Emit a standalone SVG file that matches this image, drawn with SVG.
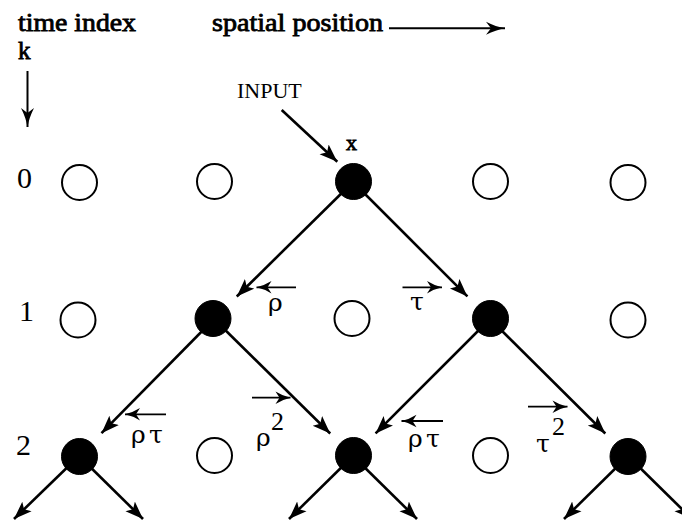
<svg xmlns="http://www.w3.org/2000/svg" width="682" height="520" viewBox="0 0 682 520">
<style>
.bg{fill:#fff}
.open{fill:#fff;stroke:#000;stroke-width:2}
.full{fill:#000;stroke:#000;stroke-width:1}
.edge{stroke:#000;stroke-width:2.6;fill:none;marker-end:url(#big)}
.ax{stroke:#000;stroke-width:2;fill:none;marker-end:url(#barbL)}
.la{stroke:#000;stroke-width:1.8;fill:none;marker-end:url(#barbS)}
.hd{font-family:"Liberation Serif","DejaVu Serif",serif;font-size:25px;fill:#000;stroke:#000;stroke-width:0.8}
.rn{font-family:"Liberation Serif","DejaVu Serif",serif;font-size:30px;fill:#000}
.gr{font-family:"DejaVu Serif","Liberation Serif",serif;font-size:25px;fill:#000}
.sup{font-family:"Liberation Serif","DejaVu Serif",serif;font-size:26px;fill:#000}
.in{font-family:"Liberation Serif","DejaVu Serif",serif;font-size:22px;fill:#000}
</style>
<defs>
<marker id="big" markerUnits="userSpaceOnUse" markerWidth="22" markerHeight="16" refX="18" refY="7" orient="auto">
<path d="M0,0.3 L18,7 L0,13.7 L4,7 z" fill="#000"/>
</marker>
<marker id="barbL" markerUnits="userSpaceOnUse" markerWidth="24" markerHeight="16" refX="21" refY="7" orient="auto">
<path d="M21,7 Q12,5.5 2,0.5 L7,7 L2,13.5 Q12,8.5 21,7 z" fill="#000"/>
</marker>
<marker id="barbS" markerUnits="userSpaceOnUse" markerWidth="18" markerHeight="16" refX="16" refY="7" orient="auto">
<path d="M16,7 Q8,5.2 1,0.8 L5,7 L1,13.2 Q8,8.8 16,7 z" fill="#000"/>
</marker>
</defs>
<rect class="bg" x="0" y="0" width="682" height="520"/>

<g id="headers">
<text class="hd" x="18" y="31" textLength="118" lengthAdjust="spacingAndGlyphs">time index</text>
<text class="hd" x="18" y="59">k</text>
<text class="hd" x="212" y="31" textLength="171" lengthAdjust="spacingAndGlyphs">spatial position</text>
<line class="ax" x1="27.5" y1="71" x2="27.5" y2="127"/>
<line class="ax" x1="389" y1="28.3" x2="505" y2="28.3"/>
</g>

<g id="row-labels">
<text class="rn" x="17" y="188">0</text>
<text class="rn" x="19" y="321">1</text>
<text class="rn" x="16" y="455">2</text>
</g>

<g id="connectors">
<line class="edge" x1="281.7" y1="110" x2="337.3" y2="161.7"/>
<line class="edge" x1="353" y1="182" x2="236.8" y2="296.5"/>
<line class="edge" x1="353" y1="182" x2="467.4" y2="296.4"/>
<line class="edge" x1="214" y1="319" x2="101.5" y2="433.2"/>
<line class="edge" x1="214" y1="319" x2="330.2" y2="433.5"/>
<line class="edge" x1="490" y1="319" x2="375.6" y2="433.4"/>
<line class="edge" x1="490" y1="319" x2="605.3" y2="433.5"/>
<line class="edge" x1="79" y1="456" x2="14" y2="519"/>
<line class="edge" x1="79" y1="456" x2="143" y2="519"/>
<line class="edge" x1="353" y1="456" x2="289" y2="519"/>
<line class="edge" x1="353" y1="456" x2="417" y2="519"/>
<line class="edge" x1="628" y1="456" x2="564" y2="519"/>
<line class="edge" x1="628" y1="456" x2="692" y2="519"/>
</g>

<g id="input-label">
<text class="in" x="237" y="98">INPUT</text>
<text class="hd" x="346" y="150" style="font-size:22px">x</text>
</g>

<g id="n0-0"><circle class="open" cx="79.5" cy="182.5" r="17.5"/></g>
<g id="n0-1"><circle class="open" cx="214.5" cy="181.5" r="17.5"/></g>
<g id="n0-2"><circle class="full" cx="353.5" cy="181.5" r="18"/></g>
<g id="n0-3"><circle class="open" cx="490.5" cy="181.5" r="17.5"/></g>
<g id="n0-4"><circle class="open" cx="628" cy="182.5" r="17.5"/></g>

<g id="n1-0"><circle class="open" cx="78" cy="320" r="17.5"/></g>
<g id="n1-1"><circle class="full" cx="213" cy="318.5" r="18"/></g>
<g id="n1-2"><circle class="open" cx="352" cy="318.5" r="17.5"/></g>
<g id="n1-3"><circle class="full" cx="490.5" cy="318.5" r="18"/></g>
<g id="n1-4"><circle class="open" cx="628" cy="320" r="17.5"/></g>

<g id="n2-0"><circle class="full" cx="79.5" cy="456.5" r="18"/></g>
<g id="n2-1"><circle class="open" cx="214.5" cy="455.5" r="17.5"/></g>
<g id="n2-2"><circle class="full" cx="353.5" cy="455.5" r="18"/></g>
<g id="n2-3"><circle class="open" cx="490.5" cy="455.5" r="17.5"/></g>
<g id="n2-4"><circle class="full" cx="628" cy="456.5" r="18"/></g>

<g id="weights">
<line class="la" x1="296" y1="287.3" x2="256.5" y2="287.3"/>
<text class="gr" x="268" y="311">ρ</text>
<line class="la" x1="402.5" y1="287.3" x2="442" y2="287.3"/>
<text class="gr" x="410" y="310">τ</text>

<line class="la" x1="166" y1="414.3" x2="125" y2="414.3"/>
<text class="gr" x="131" y="443">ρ</text>
<text class="gr" x="149" y="443">τ</text>

<line class="la" x1="252" y1="397.7" x2="290.5" y2="397.7"/>
<text class="gr" x="256" y="446">ρ</text>
<text class="sup" x="271" y="430">2</text>

<line class="la" x1="443" y1="421" x2="401.5" y2="421"/>
<text class="gr" x="408" y="447">ρ</text>
<text class="gr" x="426" y="447">τ</text>

<line class="la" x1="528" y1="406.7" x2="567.5" y2="406.7"/>
<text class="gr" x="536" y="452">τ</text>
<text class="sup" x="552" y="435">2</text>
</g>
</svg>
